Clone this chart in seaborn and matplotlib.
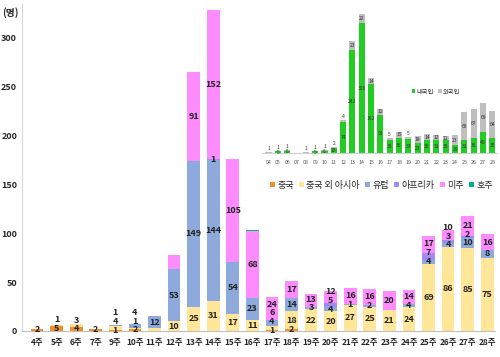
import numpy as np
import pandas as pd
import matplotlib
matplotlib.use("Agg")
import matplotlib.pyplot as plt
from matplotlib.patches import Patch
import seaborn as sns

# main chart: imported cases by region of origin, per week
weeks = ["4주", "5주", "6주", "7주"] + [f"{w}주" for w in range(9, 29)]
china = [2, 5, 4, 2, 1, 2, 0, 0, 0, 0, 0, 0, 1, 2, 0, 0, 0, 0, 0, 0, 0, 0, 0, 0]
asia = [0, 1, 3, 0, 4, 1, 3, 10, 25, 31, 17, 11, 4, 18, 22, 20, 27, 25, 21, 24, 69, 86, 85, 75]
europe = [0, 0, 0, 0, 1, 4, 12, 53, 149, 144, 54, 23, 6, 14, 3, 4, 1, 2, 0, 4, 4, 4, 10, 8]
africa = [0, 0, 0, 0, 0, 0, 0, 0, 0, 1, 0, 0, 0, 0, 0, 5, 0, 0, 0, 0, 7, 3, 2, 0]
america = [0, 0, 0, 0, 0, 0, 0, 15, 91, 152, 105, 68, 24, 17, 13, 12, 16, 16, 20, 14, 17, 10, 21, 16]
australia = [0, 0, 0, 0, 0, 0, 0, 0, 0, 0, 0, 1, 0, 0, 0, 0, 0, 0, 0, 0, 0, 0, 0, 0]

series_names = ["중국", "중국 외 아시아", "유럽", "아프리카", "미주", "호주"]
series_vals = [china, asia, europe, africa, america, australia]
series_colors = ["#F28E2B", "#FFE699", "#8EA9DB", "#A08CF0", "#FF8CFF", "#00B386"]

# segments the original leaves unlabelled (week, series)
no_label = {("11주", "중국 외 아시아"), ("12주", "미주"), ("16주", "호주")}

# inset chart: domestic vs foreign nationals
weeks2 = [f"{w:02d}" for w in range(4, 29)]
domestic = [1, 5, 6, 0, 1, 5, 6, 13, 74, 242, 306, 162, 91, 30, 36, 33, 23, 30, 31, 30, 19, 31, 36, 49, 35]
foreign = [1, 1, 1, 0, 1, 1, 1, 2, 4, 23, 22, 14, 12, 5, 15, 5, 18, 14, 12, 11, 23, 66, 67, 69, 64]

sns.set_style("white")
plt.rcParams["font.family"] = ["Noto Sans CJK KR", "DejaVu Sans"]

fig = plt.figure(figsize=(5, 3.57), dpi=100)
ax = fig.add_axes([0.044, 0.073, 0.946, 0.917])

df = pd.DataFrame(dict(zip(series_names, series_vals)), index=weeks)
cum = df.cumsum(axis=1)

# draw cumulative bars from top layer down so each layer shows
for name, col in reversed(list(zip(series_names, series_colors))):
    sns.barplot(x=weeks, y=cum[name].values, color=col, saturation=1,
                width=0.65, ax=ax, edgecolor="none")

# segment labels, nudged up so small neighbours don't collide
for i, wk in enumerate(weeks):
    base = 0
    prev_y = -100
    for j, name in enumerate(series_names):
        v = df.iloc[i, j]
        if v > 0 and (wk, name) not in no_label:
            y = max(base + v / 2, prev_y + 9)
            ax.text(i, y, str(v), ha="center", va="center", fontsize=6.5,
                    fontweight="bold", color="#222222")
            prev_y = y
        base += v

ax.set_ylim(0, 335)
ax.set_xlim(-0.77, 23.4)
ax.set_yticks(range(0, 301, 50))
ax.tick_params(axis="y", length=0, labelsize=6.5)
ax.tick_params(axis="x", length=0, labelsize=6, pad=5)
for t in ax.get_xticklabels() + ax.get_yticklabels():
    t.set_fontweight("bold")
ax.set_xlabel("")
ax.set_ylabel("")
for s in ["top", "right"]:
    ax.spines[s].set_visible(False)
ax.spines["left"].set_color("#D9D9D9")
ax.spines["bottom"].set_color("#BFBFBF")
fig.text(0.005, 0.965, "(명)", fontsize=7, fontweight="bold", va="center")

handles = [Patch(facecolor=c, edgecolor="none") for c in series_colors]
ax.legend(handles, series_names, loc="center", bbox_to_anchor=(0.76, 0.445),
          ncol=6, frameon=False, fontsize=6.5, handlelength=0.55, handleheight=0.6,
          handletextpad=0.25, columnspacing=0.6, borderpad=0)

# inset
ax2 = fig.add_axes([0.524, 0.571, 0.47, 0.41])
sns.barplot(x=weeks2, y=np.array(domestic) + np.array(foreign), color="#BFBFBF",
            saturation=1, width=0.65, ax=ax2, edgecolor="none")
sns.barplot(x=weeks2, y=domestic, color="#22CC22", saturation=1,
            width=0.65, ax=ax2, edgecolor="none")
for i in range(len(weeks2)):
    d, f = domestic[i], foreign[i]
    if d >= 5:
        ax2.text(i, d / 2, str(d), ha="center", va="center", fontsize=3.6, color="#333333")
    if f > 0:
        y = d + f / 2 if f >= 10 else d + f + 8
        ax2.text(i, y, str(f), ha="center", va="center", fontsize=3.6, color="#333333")
ax2.set_ylim(0, 345)
ax2.set_xlim(-0.7, 24.5)
ax2.set_yticks([])
ax2.tick_params(axis="x", length=0, labelsize=3.8, labelcolor="#555555", pad=5)
ax2.set_xlabel("")
ax2.set_ylabel("")
for s in ["top", "right", "left"]:
    ax2.spines[s].set_visible(False)
ax2.spines["bottom"].set_color("#D0D0D0")
ax2.patch.set_alpha(0)
h2 = [Patch(facecolor="#22CC22", edgecolor="none"), Patch(facecolor="#BFBFBF", edgecolor="none")]
ax2.legend(h2, ["내국인", "외국인"], loc="center", bbox_to_anchor=(0.74, 0.42), ncol=2,
           frameon=False, fontsize=4.5, handlelength=0.5, handleheight=0.6,
           handletextpad=0.2, columnspacing=0.8)

fig.savefig("out.png", dpi=100)
